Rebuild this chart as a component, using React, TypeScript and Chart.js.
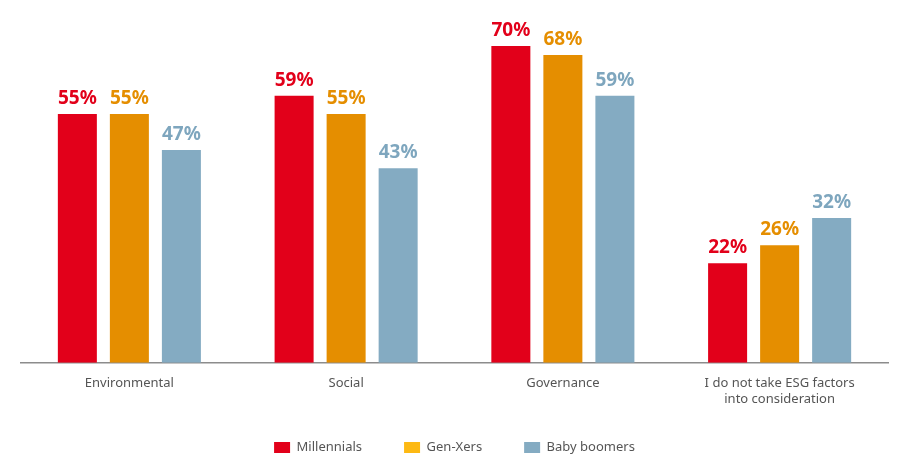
import React, { useEffect, useRef } from "react";
import { Chart, registerables } from "chart.js";

Chart.register(...registerables);

const categories: (string | string[])[] = [
  "Environmental",
  "Social",
  "Governance",
  ["I do not take ESG factors", "into consideration"],
];
const millennials = [55, 59, 70, 22];
const genXers = [55, 55, 68, 26];
const babyBoomers = [47, 43, 59, 32];
const seriesNames = ["Millennials", "Gen-Xers", "Baby boomers"];
const barColors = ["#E2001A", "#E58E00", "#84ABC2"];
const legendColors = ["#E2001A", "#FDB913", "#84ABC2"];
const labelColors = ["#E2001A", "#E58E00", "#7EA6BE"];

const FONT = "'Noto Sans', 'Open Sans', sans-serif";

const valueLabels = {
  id: "valueLabels",
  afterDatasetsDraw(chart: any) {
    const ctx = chart.ctx;
    ctx.save();
    ctx.font = `bold 19px ${FONT}`;
    ctx.textAlign = "center";
    ctx.textBaseline = "alphabetic";
    chart.data.datasets.forEach((ds: any, i: number) => {
      const meta = chart.getDatasetMeta(i);
      meta.data.forEach((bar: any, j: number) => {
        ctx.fillStyle = labelColors[i];
        ctx.fillText(`${ds.data[j]}%`, bar.x, bar.y - 10);
      });
    });
    ctx.restore();
  },
};

const legendPlace = {
  id: "legendPlace",
  beforeInit(chart: any) {
    const orig = chart.legend.fit;
    chart.legend.fit = function () {
      orig.call(this);
      this.height -= 18;
    };
  },
  afterLayout(chart: any) {
    chart.legend.top -= 21;
  },
};

export default function App() {
  const ref = useRef<HTMLCanvasElement>(null);
  useEffect(() => {
    if (!ref.current) return;
    const chart = new Chart(ref.current, {
      type: "bar",
      data: {
        labels: categories,
        datasets: [millennials, genXers, babyBoomers].map((d, i) => ({
          label: seriesNames[i],
          data: d,
          backgroundColor: barColors[i],
          borderWidth: 0,
          categoryPercentage: 0.72,
          barPercentage: 0.75,
        })),
      },
      options: {
        responsive: false,
        animation: false,
        layout: { padding: { left: 21, right: 16, top: 46, bottom: 0 } },
        plugins: {
          tooltip: { enabled: false },
          legend: {
            position: "bottom",
            labels: {
              boxWidth: 16,
              boxHeight: 11,
              padding: 42,
              color: "#555",
              font: { family: FONT, size: 13 },
              generateLabels: () =>
                seriesNames.map((n, i) => ({
                  text: n,
                  fillStyle: legendColors[i],
                  strokeStyle: legendColors[i],
                  lineWidth: 0,
                  datasetIndex: i,
                  hidden: false,
                  fontColor: "#555",
                })),
            },
          },
        },
        scales: {
          x: {
            grid: { display: false, drawTicks: false },
            border: { display: true, color: "#8c8c8c", width: 1.5 },
            ticks: {
              color: "#555",
              font: { family: FONT, size: 13 },
              padding: 13,
              maxRotation: 0,
            },
          },
          y: {
            display: false,
            min: 0,
            max: 70,
          },
        },
      },
      plugins: [valueLabels, legendPlace],
    });
    return () => chart.destroy();
  }, []);
  return (
    <div style={{ position: "absolute", left: 0, top: 0, width: 904, height: 467, background: "#fff" }}>
      <canvas ref={ref} width={904} height={467} style={{ width: 904, height: 467 }} />
    </div>
  );
}
